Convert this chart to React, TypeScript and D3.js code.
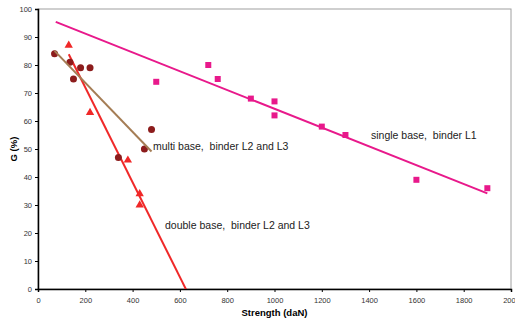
import React, { useEffect, useRef } from "react";
import * as d3 from "d3";

// single base, binder L1
const singleX = [500, 720, 760, 900, 1000, 1000, 1200, 1300, 1600, 1900];
const singleY = [74, 80, 75, 68, 67, 62, 58, 55, 39, 36];

// multi base, binder L2 and L3
const multiX = [70, 135, 150, 180, 220, 340, 450, 480];
const multiY = [84, 81, 75, 79, 79, 47, 50, 57];

// double base, binder L2 and L3
const doubleX = [130, 220, 380, 430, 430];
const doubleY = [87, 63, 46, 34, 30];

// trendline extents (x from / to)
const singleTrend = [75, 1900];
const multiTrend = [70, 480];
const doubleTrend = [130, 700];

const xTicks = [0, 200, 400, 600, 800, 1000, 1200, 1400, 1600, 1800, 2000];
const yTicks = [0, 10, 20, 30, 40, 50, 60, 70, 80, 90, 100];

const labels = [
  "single base,  binder L1",
  "multi base,  binder L2 and L3",
  "double base,  binder L2 and L3",
];

const W = 515;
const H = 320;
const margin = { top: 9, right: 4, bottom: 31, left: 38 };
const font = "Liberation Sans, Arial, sans-serif";

function fit(xs: number[], ys: number[]) {
  const mx = d3.mean(xs)!;
  const my = d3.mean(ys)!;
  let sxy = 0;
  let sxx = 0;
  xs.forEach((x, i) => {
    sxy += (x - mx) * (ys[i] - my);
    sxx += (x - mx) * (x - mx);
  });
  const b = sxy / sxx;
  const a = my - b * mx;
  return (x: number) => a + b * x;
}

export default function App() {
  const ref = useRef<SVGSVGElement>(null);

  useEffect(() => {
    const svg = d3.select(ref.current);
    svg.selectAll("*").remove();

    const x = d3
      .scaleLinear()
      .domain([0, 2000])
      .range([margin.left, W - margin.right]);
    const y = d3
      .scaleLinear()
      .domain([0, 100])
      .range([H - margin.bottom, margin.top]);

    svg
      .append("defs")
      .append("clipPath")
      .attr("id", "plot")
      .append("rect")
      .attr("x", x(0))
      .attr("y", y(100))
      .attr("width", x(2000) - x(0))
      .attr("height", y(0) - y(100));

    // frame
    svg
      .append("rect")
      .attr("x", x(0))
      .attr("y", y(100))
      .attr("width", x(2000) - x(0))
      .attr("height", y(0) - y(100))
      .attr("fill", "#fff")
      .attr("stroke", "#a0a0a0")
      .attr("stroke-width", 1);

    const xAxis = svg
      .append("g")
      .attr("transform", `translate(0,${y(0)})`)
      .call(
        d3
          .axisBottom(x)
          .tickValues(xTicks)
          .tickSize(3)
          .tickFormat((d) => String(d))
      );
    xAxis.select(".domain").attr("stroke", "#000").attr("stroke-width", 1.5);
    xAxis
      .selectAll("text")
      .attr("font-size", 7.5)
      .attr("font-family", font)
      .attr("fill", "#333")
      .attr("dy", "1.1em");

    const yAxis = svg
      .append("g")
      .attr("transform", `translate(${x(0)},0)`)
      .call(d3.axisLeft(y).tickValues(yTicks).tickSize(3));
    yAxis.select(".domain").attr("stroke", "#000").attr("stroke-width", 1.5);
    yAxis
      .selectAll("text")
      .attr("font-size", 7.5)
      .attr("font-family", font)
      .attr("fill", "#333")
      .attr("x", -6);

    const plot = svg.append("g").attr("clip-path", "url(#plot)");

    const trend = (
      xs: number[],
      ys: number[],
      ext: number[],
      color: string
    ) => {
      const f = fit(xs, ys);
      plot
        .append("line")
        .attr("x1", x(ext[0]))
        .attr("y1", y(f(ext[0])))
        .attr("x2", x(ext[1]))
        .attr("y2", y(f(ext[1])))
        .attr("stroke", color)
        .attr("stroke-width", 2);
    };

    // markers
    plot
      .selectAll(".sq")
      .data(singleX)
      .enter()
      .append("rect")
      .attr("x", (d) => x(d) - 3)
      .attr("y", (_, i) => y(singleY[i]) - 3)
      .attr("width", 6)
      .attr("height", 6)
      .attr("fill", "#e8198b");

    const tri = d3.symbol().type(d3.symbolTriangle).size(30);
    plot
      .selectAll(".tri")
      .data(doubleX)
      .enter()
      .append("path")
      .attr("d", tri)
      .attr("transform", (d, i) => `translate(${x(d)},${y(doubleY[i])})`)
      .attr("fill", "#f02828");

    trend(doubleX, doubleY, doubleTrend, "#f02828");

    plot
      .selectAll(".dot")
      .data(multiX)
      .enter()
      .append("circle")
      .attr("cx", (d) => x(d))
      .attr("cy", (_, i) => y(multiY[i]))
      .attr("r", 3.5)
      .attr("fill", "#8c1c1c");

    trend(multiX, multiY, multiTrend, "#a57d55");
    trend(singleX, singleY, singleTrend, "#e8198b");

    const txt = (s: string, tx: number, ty: number) =>
      svg
        .append("text")
        .attr("x", tx)
        .attr("y", ty)
        .attr("font-size", 10.5)
        .attr("font-family", font)
        .attr("fill", "#222")
        .style("white-space", "pre")
        .text(s);

    txt(labels[0], 371, 138.5);
    txt(labels[1], 153, 150);
    txt(labels[2], 165, 229);

    svg
      .append("text")
      .attr("x", (x(0) + x(2000)) / 2)
      .attr("y", 316)
      .attr("text-anchor", "middle")
      .attr("font-size", 9.5)
      .attr("font-weight", "bold")
      .attr("font-family", font)
      .text("Strength (daN)");

    svg
      .append("text")
      .attr("transform", `translate(17,${(y(0) + y(100)) / 2}) rotate(-90)`)
      .attr("text-anchor", "middle")
      .attr("font-size", 9.5)
      .attr("font-weight", "bold")
      .attr("font-family", font)
      .text("G (%)");
  }, []);

  return (
    <div style={{ position: "absolute", left: 0, top: 0 }}>
      <svg ref={ref} width={W} height={H} style={{ display: "block" }} />
    </div>
  );
}
